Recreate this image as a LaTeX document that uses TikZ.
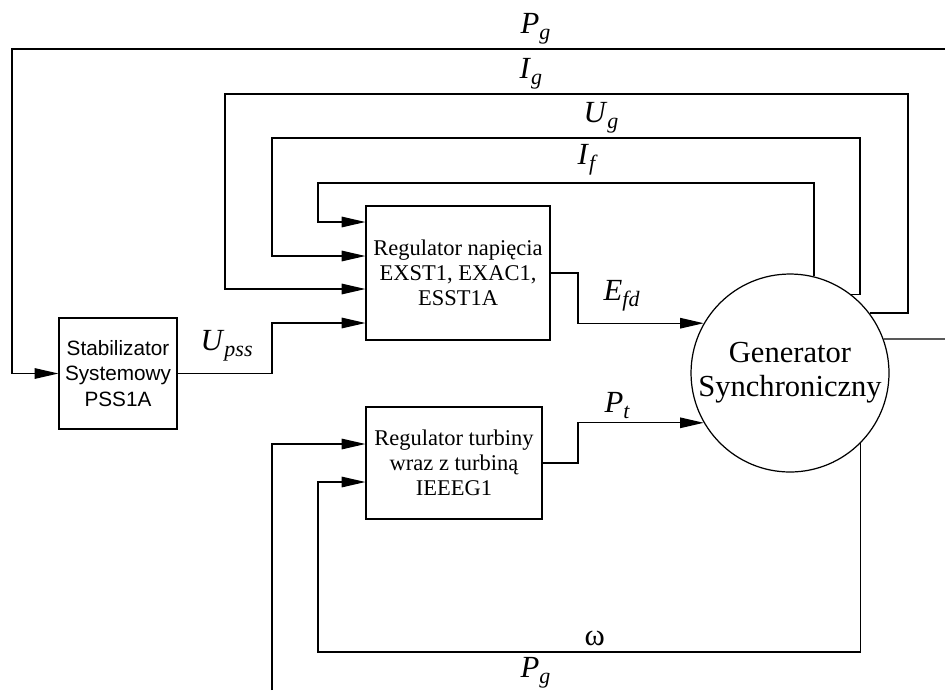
\documentclass[tikz,border=0pt]{standalone}
\usepackage{fontspec}
\setmainfont{Liberation Serif}
\setsansfont{Liberation Sans}
\usetikzlibrary{arrows.meta}
\newcommand{\sig}[2]{\textit{#1}\raisebox{-3.5pt}{\fontsize{12.5}{14}\selectfont\textit{#2}}}

\begin{document}
\begin{tikzpicture}[
  x=0.02cm, y=-0.02cm,
  line width=0.7pt,
  blok/.style={draw, inner sep=0pt, align=center,
               font=\fontsize{12.8}{14.2}\selectfont},
  gen/.style={draw, circle, inner sep=0pt, minimum size=3.96cm, align=center,
              font=\fontsize{17.4}{19.5}\selectfont},
  arr/.style={-{Triangle[length=13.5pt, width=6pt]}},
  lbl/.style={anchor=base west, inner sep=0pt, font=\fontsize{17.5}{20}\selectfont},
]
\useasboundingbox (0,0) rectangle (945,690);

%% ---- blocks ----
\node[blok, minimum width=3.68cm, minimum height=2.68cm] (reg) at (458,273)
  {Regulator napięcia\\EXST1, EXAC1,\\ESST1A};
\node[blok, minimum width=3.52cm, minimum height=2.24cm] (tur) at (454,463)
  {Regulator turbiny\\wraz z turbiną\\IEEEG1};
\node[blok, font=\sffamily\fontsize{11.8}{14.5}\selectfont,
      minimum width=2.36cm, minimum height=2.22cm] (pss) at (118,373.5)
  {Stabilizator\\Systemowy\\PSS1A};
\node[gen] (gen) at (790,373) {Generator\\Synchroniczny};

%% ---- free ends at the border ----
\coordinate (pgR) at (945,49);
\coordinate (pgB) at (272,690);
\coordinate (out) at (945,339);

%% ---- feedback into the voltage regulator ----
\draw[arr] (gen.76.5) |- (318,183) |- (reg.west |- 0,222);
\draw[arr] (gen.52) -| (860,138) -| (272,256) -- (reg.west |- 0,256);
\draw[arr] (gen.37) -| (908,94) -| (225,289) -- (reg.west |- 0,289);
\draw[arr] (pss.east) -| (272,340) |- (reg.west |- 0,323);
\draw[arr] (pgR) -| (12,200) |- (pss.west);

%% ---- into the generator ----
\draw[arr] (reg.east) -| (578,300) |- (gen.150);
\draw[arr] (tur.east) -| (578,440) |- (gen.210);
\draw (gen.20) -- (out);

%% ---- into the turbine regulator ----
\draw[arr] (gen.-45) |- (318,652) |- (tur.west |- 0,482);
\draw[arr] (pgB) |- (tur.west |- 0,444);

%% ---- signal labels ----
\node[lbl] (lPgT) at (520,33) {\sig{P}{g}};
\node[lbl] (lIg) at (519,78) {\sig{I}{g}};
\node[lbl] (lUg) at (583,122) {\sig{U}{g}};
\node[lbl] (lIf) at (577,164) {\sig{I}{f}};
\node[lbl] (lEfd) at (603,300) {\sig{E}{fd}};
\node[lbl] (lPt) at (604,412) {\sig{P}{t}};
\node[lbl] (lUpss) at (200,350) {\sig{U}{pss}};
\node[lbl] (lOm) at (584,645) {ω};
\node[lbl] (lPgB) at (520,677) {\sig{P}{g}};

\end{tikzpicture}
\end{document}
